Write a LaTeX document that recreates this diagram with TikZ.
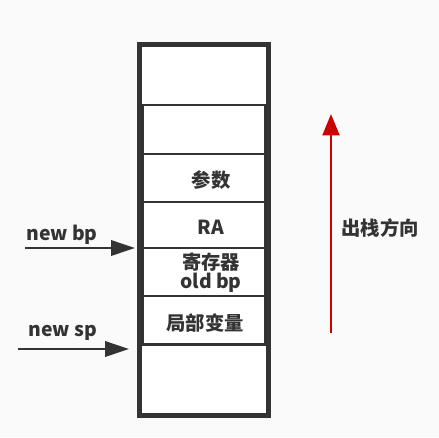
\documentclass[tikz,border=0pt]{standalone}
\usepackage{fontspec}
\setmainfont{Noto Sans CJK SC}
\usetikzlibrary{arrows.meta}
\definecolor{ink}{HTML}{333333}
\definecolor{bg}{HTML}{FAFAFA}
\definecolor{redarrow}{HTML}{CC0000}
\tikzset{
  stackbox/.style={draw=ink, line width=1.6pt, fill=white, rectangle, inner sep=0pt, minimum width=91.5pt},
  lbl/.style={text=ink, font=\fontsize{14.5}{17}\selectfont\bfseries, inner sep=0pt},
  ptr/.style={draw=ink, line width=1.9pt, -{Triangle[length=18pt,width=11.5pt]}},
  dir/.style={draw=redarrow, line width=2.2pt, -{Triangle[length=16pt,width=12.5pt]}}
}
\begin{document}
\begin{tikzpicture}[x=0.75pt,y=-0.75pt]
\fill[bg] (0,0) rectangle (439,437);
\useasboundingbox (0,0) rectangle (439,437);
% outer frame
\node[draw=ink, line width=2.3pt, fill=white, rectangle, inner sep=0pt, minimum width=96pt, minimum height=277.5pt] (frame) at (204,230) {};
% top box
\node[stackbox, minimum width=94.5pt, minimum height=44pt] (top) at (204,75.5) {};
% stack boxes
\node[stackbox, minimum height=36.5pt] (b1) at (204,129.5) {};
\node[stackbox, minimum height=36pt] (b2) at (204,178) {};
\node[stackbox, minimum height=34.5pt] (b3) at (204,225) {};
\node[stackbox, minimum height=36pt] (b4) at (204,272) {};
\node[stackbox, minimum height=36pt] (b5) at (204,320) {};
% bottom box
\node[stackbox, minimum width=95pt, minimum height=52pt] (bot) at (204,379.5) {};
\draw[ink, line width=2.3pt] (frame.north west) rectangle (frame.south east);
% labels
\node[lbl] (t2) at (211,180) {参数};
\node[lbl] (t3) at (211,227) {RA};
\node[lbl] (t4a) at (211,262) {寄存器};
\node[lbl] (t4b) at (211,283) {old bp};
\node[lbl] (t5) at (205,323) {局部变量};
% pointers
\coordinate (bpstart) at (25,248);
\coordinate (spstart) at (18,349);
\coordinate (bpend) at (135,248);
\coordinate (spend) at (129,349);
\node[lbl] (bplbl) at (62,235) {new bp};
\node[lbl] (splbl) at (63,333) {new sp};
\draw[ptr] (bpstart) -- (bpend);
\draw[ptr] (spstart) -- (spend);
% direction arrow
\coordinate (dirstart) at (331,333);
\coordinate (dirend) at (331,114);
\draw[dir] (dirstart) -- (dirend);
\node[lbl] (dirlbl) at (380,228) {出栈方向};
\end{tikzpicture}
\end{document}
